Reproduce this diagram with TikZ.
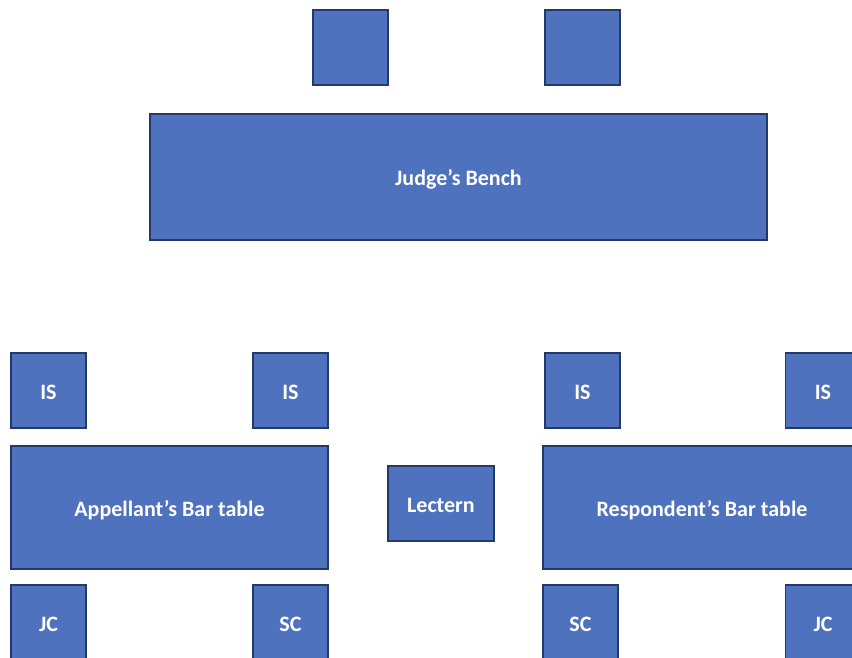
\documentclass[tikz,border=0pt]{standalone}
\usepackage{fontspec}
\setmainfont{Carlito}
\usetikzlibrary{positioning}
\definecolor{tableblue}{RGB}{79,114,190}
\definecolor{edgeblue}{RGB}{38,56,102}

\begin{document}
\begin{tikzpicture}[x=1pt, y=-1pt,
    furniture/.style={draw=edgeblue, fill=tableblue, line width=1.6pt, inner sep=0pt,
      text=white, text height=17pt, text depth=0pt, font=\fontsize{22}{26}\selectfont\bfseries},
    seat/.style={furniture, minimum width=75pt, minimum height=75pt},
    bartable/.style={furniture, minimum width=317pt, minimum height=123pt}]
  \useasboundingbox (0,0) rectangle (852,658);
  \clip (0,0) rectangle (852,658);
  % bench and the judges' seats
  \node[seat] (judgeL) at (350.5,47.5) {};
  \node[seat] (judgeR) at (582.5,47.5) {};
  \node[furniture, minimum width=617pt, minimum height=126pt] (bench) at (458.5,177) {Judge’s Bench};
  % appellant side
  \node[seat] (isA1) at (48.5,390.5) {IS};
  \node[seat] (isA2) at (290.5,390.5) {IS};
  \node[bartable] (appellant) at (169.5,507.5) {Appellant’s Bar table};
  \node[seat] (jcA) at (48.5,622.5) {JC};
  \node[seat] (scA) at (290.5,622.5) {SC};
  % lectern
  \node[furniture, minimum width=106pt, minimum height=75pt] (lectern) at (441,503.5) {Lectern};
  % respondent side
  \node[seat] (isR1) at (582.5,390.5) {IS};
  \node[seat] (isR2) at (823,390.5) {IS};
  \node[bartable, minimum width=318pt] (respondent) at (702,507.5) {Respondent’s Bar table};
  \node[seat] (scR) at (580.5,622.5) {SC};
  \node[seat] (jcR) at (823,622.5) {JC};
\end{tikzpicture}
\end{document}
